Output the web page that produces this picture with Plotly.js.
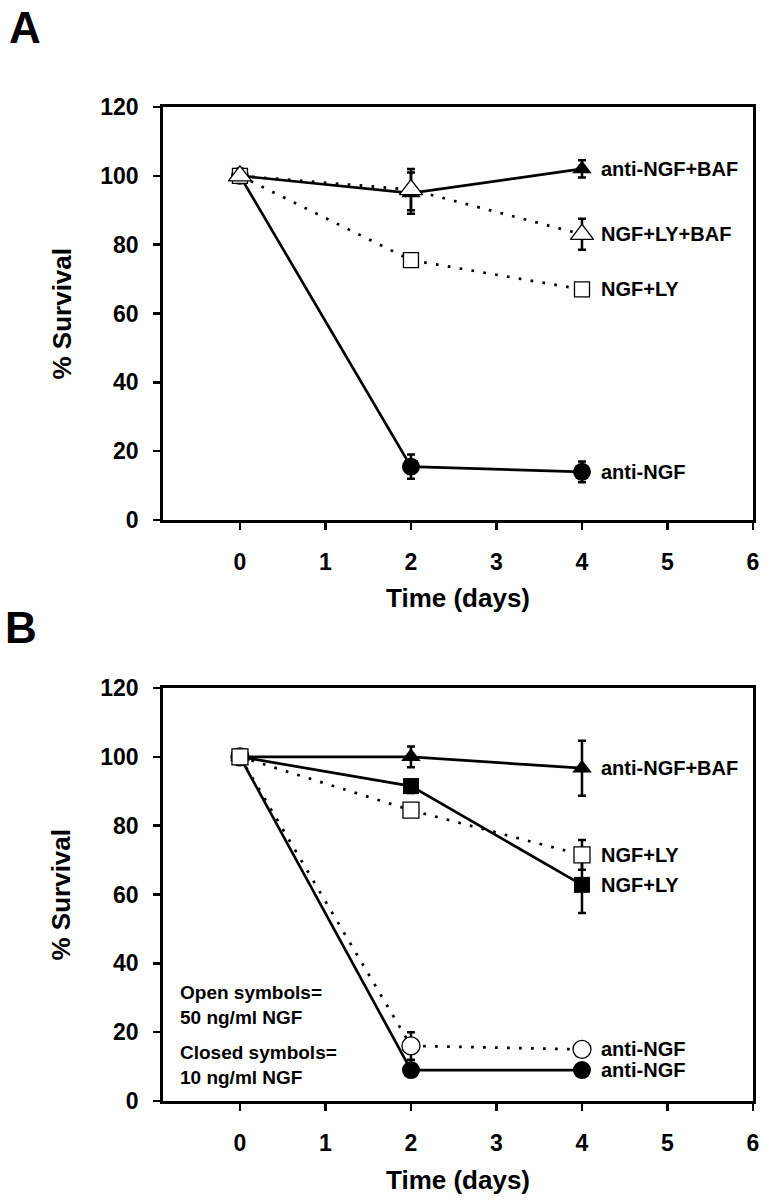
<!DOCTYPE html>
<html>
<head>
<meta charset="utf-8">
<script src="https://cdn.plot.ly/plotly-3.0.1.min.js"></script>
<style>
  html, body { margin: 0; padding: 0; background: #fff; }
  #chart { width: 764px; height: 1200px; }
</style>
</head>
<body>
<div id="chart"></div>
<script>
// ---------- data ----------
const days = [0, 2, 4];
const xTicks = [0, 1, 2, 3, 4, 5, 6];
const yTicks = [0, 20, 40, 60, 80, 100, 120];

// Panel A
const aNames = ["anti-NGF+BAF", "NGF+LY+BAF", "NGF+LY", "anti-NGF"];
const aAntiNgfBaf = [100, 95, 102];
const aAntiNgfBafErr = [0, 6, 2.5];
const aNgfLyBaf = [100, 96, 83];
const aNgfLyBafErr = [0, 6, 4.5];
const aNgfLy = [100, 75.5, 67];
const aNgfLyErr = [0, 0, 0];
const aAntiNgf = [100, 15.5, 14];
const aAntiNgfErr = [0, 3.5, 3];

// Panel B
const bNames = ["anti-NGF+BAF", "NGF+LY", "NGF+LY", "anti-NGF", "anti-NGF"];
const bAntiNgfBaf = [100, 100, 96.7];
const bAntiNgfBafErr = [0, 3, 8];
const bNgfLyOpen = [100, 84.5, 71.5];
const bNgfLyOpenErr = [0, 0, 4.3];
const bNgfLyClosed = [100, 91.5, 62.8];
const bNgfLyClosedErr = [0, 2, 8.2];
const bAntiNgfOpen = [100, 16, 15];
const bAntiNgfOpenErr = [0, 4, 0];
const bAntiNgfClosed = [100, 9, 9];
const bAntiNgfClosedErr = [0, 1, 1];

const noteOpen = "Open symbols=<br>50 ng/ml NGF";
const noteClosed = "Closed symbols=<br>10 ng/ml NGF";
const panelLetters = ["A", "B"];
const xTitle = "Time (days)";
const yTitle = "% Survival";

// ---------- styles ----------
const FONT = "Liberation Sans, Arial, sans-serif";
const SOLID = {color: "#000", width: 2.7, dash: "solid"};
const DOTTED = {color: "#000", width: 2.7, dash: "2.7px,9.3px"};

function trace(y, err, xa, ya, symbol, size, line, filled) {
  return {
    type: "scatter", mode: "lines+markers",
    x: days, y: y, xaxis: xa, yaxis: ya,
    line: line,
    marker: {
      symbol: symbol, size: size,
      color: filled ? "#000" : "#fff",
      line: {color: "#000", width: filled ? 0 : 1.3}
    },
    error_y: {type: "data", array: err, visible: true, color: "#000", thickness: 2.5, width: 4},
    showlegend: false, hoverinfo: "skip", cliponaxis: false
  };
}

const data = [
  // A
  trace(aAntiNgf, aAntiNgfErr, "x", "y", "circle", 18, SOLID, true),
  trace(aNgfLy, aNgfLyErr, "x", "y", "square", 15, DOTTED, false),
  trace(aAntiNgfBaf, aAntiNgfBafErr, "x", "y", "triangle-up", 17, SOLID, true),
  trace(aNgfLyBaf, aNgfLyBafErr, "x", "y", "triangle-up", 20, DOTTED, false),
  // B
  trace(bAntiNgfClosed, bAntiNgfClosedErr, "x2", "y2", "circle", 18, SOLID, true),
  trace(bAntiNgfOpen, bAntiNgfOpenErr, "x2", "y2", "circle", 18, DOTTED, false),
  trace(bNgfLyClosed, bNgfLyClosedErr, "x2", "y2", "square", 16, SOLID, true),
  trace(bAntiNgfBaf, bAntiNgfBafErr, "x2", "y2", "triangle-up", 17, SOLID, true),
  trace(bNgfLyOpen, bNgfLyOpenErr, "x2", "y2", "square", 16, DOTTED, false),
];

// ---------- axes ----------
const W = 764, H = 1200;
const xDom = [163 / W, 753 / W];
const aDom = [1 - 520 / H, 1 - 107 / H];
const bDom = [1 - 1101 / H, 1 - 688 / H];

function xAxis(anchor) {
  return {
    domain: xDom, anchor: anchor, range: [-0.9, 6],
    tickmode: "array", tickvals: xTicks,
    ticks: "outside", ticklen: 7, tickwidth: 2.5, tickcolor: "#000",
    showline: true, linewidth: 2.8, linecolor: "#000", mirror: true,
    showgrid: false, zeroline: false,
    tickfont: {family: FONT, size: 23, color: "#000", weight: "bold"},
    ticklabelstandoff: 13
  };
}
function yAxis(anchor, dom) {
  return {
    domain: dom, anchor: anchor, range: [0, 120],
    tickmode: "array", tickvals: yTicks,
    ticks: "outside", ticklen: 7, tickwidth: 2.5, tickcolor: "#000",
    showline: true, linewidth: 2.8, linecolor: "#000", mirror: true,
    showgrid: false, zeroline: false,
    tickfont: {family: FONT, size: 23, color: "#000", weight: "bold"},
    ticklabelstandoff: 10
  };
}

// ---------- annotations ----------
const ann = [];
const lblFont = {family: FONT, size: 20, color: "#000", weight: "bold"};
const noteFont = {family: FONT, size: 19, color: "#000", weight: "bold"};
function seriesLabels(names, series, xr, yr) {
  names.forEach((n, i) => {
    ann.push({text: n, x: days[days.length - 1], y: series[i][days.length - 1],
      xref: xr, yref: yr, xanchor: "left", yanchor: "middle", xshift: 17,
      showarrow: false, font: lblFont});
  });
}
seriesLabels(aNames, [aAntiNgfBaf, aNgfLyBaf, aNgfLy, aAntiNgf], "x", "y");
seriesLabels(bNames, [bAntiNgfBaf, bNgfLyOpen, bNgfLyClosed, bAntiNgfOpen, bAntiNgfClosed], "x2", "y2");

// notes in panel B
ann.push({text: noteOpen, xref: "paper", yref: "paper", x: 178 / W, y: 1 - 1005 / H,
  xanchor: "left", yanchor: "middle", align: "left", showarrow: false, font: noteFont});
ann.push({text: noteClosed, xref: "paper", yref: "paper", x: 178 / W, y: 1 - 1065 / H,
  xanchor: "left", yanchor: "middle", align: "left", showarrow: false, font: noteFont});

// axis titles
const titleFont = {family: FONT, size: 26, color: "#000", weight: "bold"};
[[aDom, 598], [bDom, 1180]].forEach(([dom, ty]) => {
  ann.push({text: yTitle, textangle: -90, xref: "paper", yref: "paper",
    x: 61 / W, y: (dom[0] + dom[1]) / 2, xanchor: "center", yanchor: "middle",
    showarrow: false, font: titleFont});
  ann.push({text: xTitle, xref: "paper", yref: "paper",
    x: (xDom[0] + xDom[1]) / 2, y: 1 - ty / H, xanchor: "center", yanchor: "middle",
    showarrow: false, font: titleFont});
});

// panel letters
const letterFont = {family: FONT, size: 44, color: "#000", weight: "bold"};
ann.push({text: panelLetters[0], xref: "paper", yref: "paper", x: 25 / W, y: 1 - 28 / H,
  xanchor: "center", yanchor: "middle", showarrow: false, font: letterFont});
ann.push({text: panelLetters[1], xref: "paper", yref: "paper", x: 21 / W, y: 1 - 627 / H,
  xanchor: "center", yanchor: "middle", showarrow: false, font: letterFont});

const layout = {
  width: W, height: H,
  margin: {l: 0, r: 0, t: 0, b: 0},
  paper_bgcolor: "#fff", plot_bgcolor: "#fff",
  showlegend: false,
  xaxis: xAxis("y"), yaxis: yAxis("x", aDom),
  xaxis2: xAxis("y2"), yaxis2: yAxis("x2", bDom),
  annotations: ann,
  font: {family: FONT, color: "#000"}
};

Plotly.newPlot("chart", data, layout, {staticPlot: true, displayModeBar: false});
</script>
</body>
</html>
